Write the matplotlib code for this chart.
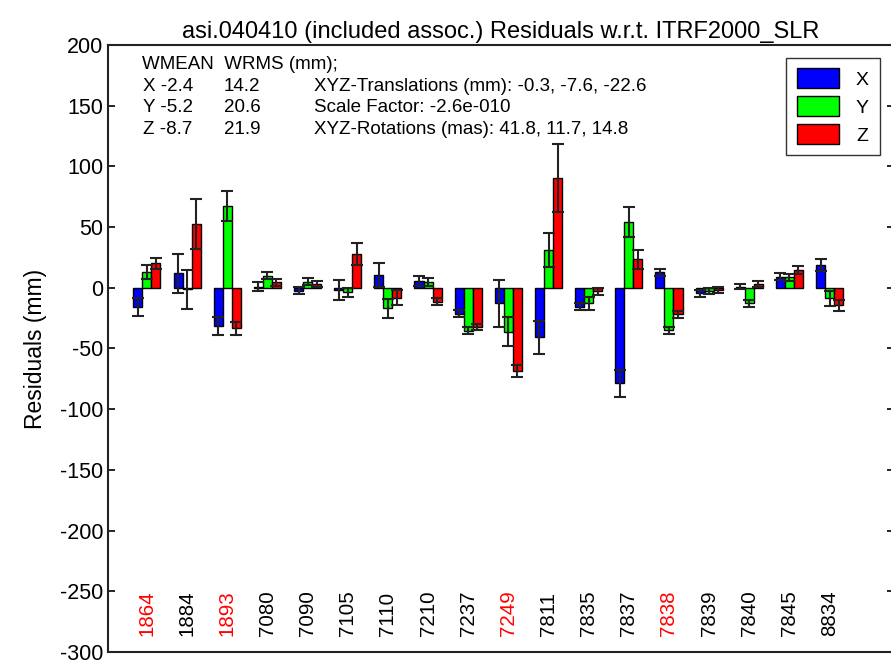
import numpy as np
import matplotlib
matplotlib.use("Agg")
import matplotlib.pyplot as plt

plt.rcParams["font.family"] = ["Liberation Sans", "DejaVu Sans"]
plt.rcParams["axes.unicode_minus"] = False

stations = ["1864", "1884", "1893", "7080", "7090", "7105", "7110", "7210", "7237",
            "7249", "7811", "7835", "7837", "7838", "7839", "7840", "7845", "8834"]
red_stations = {"1864", "1893", "7249", "7838"}

res_x = [-15.6, 11.8, -31.6, 1.0, -2.5, -2.0, 10.4, 5.8, -21.4, -12.9, -40.9, -15.6, -78.8, 12.6, -4.5, 1.0, 9.0, 18.5]
res_y = [13.2, -1.4, 67.3, 10.0, 5.0, -3.8, -17.0, 4.4, -35.4, -36.2, 31.0, -12.9, 54.0, -34.9, -3.0, -12.9, 8.5, -8.8]
res_z = [20.0, 52.4, -33.5, 4.4, 3.0, 27.7, -8.2, -11.5, -32.5, -68.6, 90.3, -3.0, 23.3, -22.0, -2.0, 3.0, 14.6, -14.3]

err_x = [7.5, 15.8, 7.2, 3.5, 3.0, 8.0, 10.0, 4.0, 3.0, 19.0, 13.7, 3.0, 11.0, 3.0, 3.0, 2.0, 3.0, 5.0]
err_y = [5.8, 16.0, 12.2, 3.0, 3.0, 4.0, 8.0, 3.3, 3.0, 12.0, 14.0, 5.0, 12.4, 3.0, 2.5, 3.0, 3.0, 6.0]
err_z = [4.3, 20.5, 5.0, 3.0, 2.5, 8.8, 6.0, 2.8, 2.5, 5.0, 28.0, 3.0, 8.0, 2.5, 2.7, 2.5, 3.0, 4.5]

stats_head = "WMEAN  WRMS (mm);"
stats_rows = [("X -2.4", "14.2"), ("Y -5.2", "20.6"), ("Z -8.7", "21.9")]
param_lines = ["XYZ-Translations (mm): -0.3, -7.6, -22.6",
               "Scale Factor: -2.6e-010",
               "XYZ-Rotations (mas): 41.8, 11.7, 14.8"]

fig = plt.figure(figsize=(8.91, 6.62), dpi=100)
ax = fig.add_axes([0.1212, 0.0151, 0.882, 0.917])

pos = np.arange(1, len(stations) + 1)
w = 0.225
series = [(res_x, err_x, "#0000ff", "X"), (res_y, err_y, "#00ff00", "Y"), (res_z, err_z, "#ff0000", "Z")]
for k, (vals, errs, col, lab) in enumerate(series):
    xs = pos + (k - 1) * w
    ax.bar(xs, vals, width=w, color=col, edgecolor="black", linewidth=1.0, label=lab, zorder=2)
    ax.errorbar(xs, vals, yerr=errs, fmt="none", ecolor="#222222", elinewidth=1.5,
                capsize=4, capthick=1.5, zorder=3)

for p, s in zip(pos, stations):
    ax.text(p, -287, s, rotation=90, ha="center", va="bottom", fontsize=14.8,
            color="red" if s in red_stations else "black")

ax.set_xlim(0.03, 19.6)
ax.set_ylim(-300, 200)
ax.set_yticks(np.arange(-300, 201, 50))
ax.set_xticks([])
ax.tick_params(axis="y", direction="in", length=5, width=1.2, right=True, labelsize=15.5)
for sp in ax.spines.values():
    sp.set_linewidth(1.5)
    sp.set_color("#222222")

ax.set_ylabel("Residuals (mm)", fontsize=16.5, labelpad=9)
ax.set_title("asi.040410 (included assoc.) Residuals w.r.t. ITRF2000_SLR", fontsize=17, pad=5)

# stats block (axes fraction; axes spans 108..894 px in x, 45..652 px in y)
dy = 0.0354
ax.text(0.043, 0.967, stats_head, transform=ax.transAxes, fontsize=13.5, va="center")
for i, (a, b) in enumerate(stats_rows):
    yy = 0.967 - (i + 1) * dy
    ax.text(0.045, yy, a, transform=ax.transAxes, fontsize=13.5, va="center")
    ax.text(0.147, yy, b, transform=ax.transAxes, fontsize=13.5, va="center")
    ax.text(0.262, yy, param_lines[i], transform=ax.transAxes, fontsize=13.5, va="center")

leg = ax.legend(loc="upper right", bbox_to_anchor=(0.982, 0.979), borderaxespad=0, fontsize=14,
                frameon=True, fancybox=False, handlelength=2.15, handleheight=1.15, borderpad=0.55,
                labelspacing=0.4, handletextpad=0.9)
leg.get_frame().set_edgecolor("black")
leg.get_frame().set_linewidth(1.0)

fig.savefig("out.png", dpi=100)
